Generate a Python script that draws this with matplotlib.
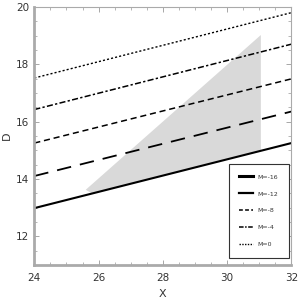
import numpy as np
import matplotlib
matplotlib.use("Agg")
import matplotlib.pyplot as plt
from matplotlib.ticker import MultipleLocator
from matplotlib.lines import Line2D

# family of lines D = D0 + slope * (X - 24)
m_labels = ["M=-16", "M=-12", "M=-8", "M=-4", "M=0"]
d_at_24 = [12.98, 14.10, 15.25, 16.42, 17.52]
d_at_32 = [15.25, 16.35, 17.49, 18.70, 19.80]
styles = ["-", (0, (8, 5)), (0, (4, 2.5)), (0, (4, 1.5, 1.5, 1.5)), (0, (1.5, 1.5))]
widths = [1.5, 1.3, 1.1, 1.1, 1.0]

# shaded region (X, D)
region_x = [25.60, 25.80, 31.05, 31.05]
region_d = [13.62, 13.49, 14.99, 19.02]

fig = plt.figure(figsize=(3.01, 3.01), dpi=100)
ax = fig.add_axes([0.114, 0.12, 0.854, 0.857])

ax.fill(region_x, region_d, color="#d9d9d9", lw=0, zorder=1)

x = np.array([24, 32])
for lab, d0, d1, ls, lw in zip(m_labels, d_at_24, d_at_32, styles, widths):
    ax.plot(x, [d0, d1], color="black", linestyle=ls, lw=lw, label=lab, zorder=2)

ax.set_xlim(24, 32)
ax.set_ylim(11, 20)
ax.xaxis.set_major_locator(MultipleLocator(2))
ax.xaxis.set_minor_locator(MultipleLocator(0.5))
ax.yaxis.set_major_locator(MultipleLocator(2))
ax.yaxis.set_minor_locator(MultipleLocator(0.5))
ax.tick_params(which="both", direction="in", top=True, right=True,
               color="#999999", labelsize=7.5, labelcolor="#333333")
ax.tick_params(which="major", length=3.5, width=0.6)
ax.tick_params(which="minor", length=2, width=0.5)
ax.tick_params(axis="x", pad=6)
ax.set_yticks([12, 14, 16, 18, 20])
for side, sp in ax.spines.items():
    sp.set_color("#aaaaaa")
    sp.set_linewidth(2 if side in ("left", "bottom") else 0.8)

ax.set_xlabel("X", fontsize=8, color="#333333", labelpad=4)
ax.set_ylabel("D", fontsize=8, color="#333333", labelpad=3)

# legend handles: M=-12 shown solid in the legend
leg_styles = ["-", "-", (0, (2.5, 1.5)), (0, (3, 1, 1, 1)), (0, (1, 1))]
leg_widths = [2.2, 1.6, 1.1, 1.1, 1.0]
handles = [Line2D([], [], color="black", linestyle=s, lw=w) for s, w in zip(leg_styles, leg_widths)]
leg = ax.legend(handles, m_labels, loc="lower right", bbox_to_anchor=(0.995, 0.022),
                fontsize=4.5, handlelength=2.2, labelspacing=1.85, borderpad=1.7,
                handletextpad=0.7, borderaxespad=0.2, fancybox=False, framealpha=1,
                edgecolor="#333333")
leg.get_frame().set_linewidth(0.8)
for t in leg.get_texts():
    t.set_color("#333333")

fig.savefig("out.png", dpi=100)
